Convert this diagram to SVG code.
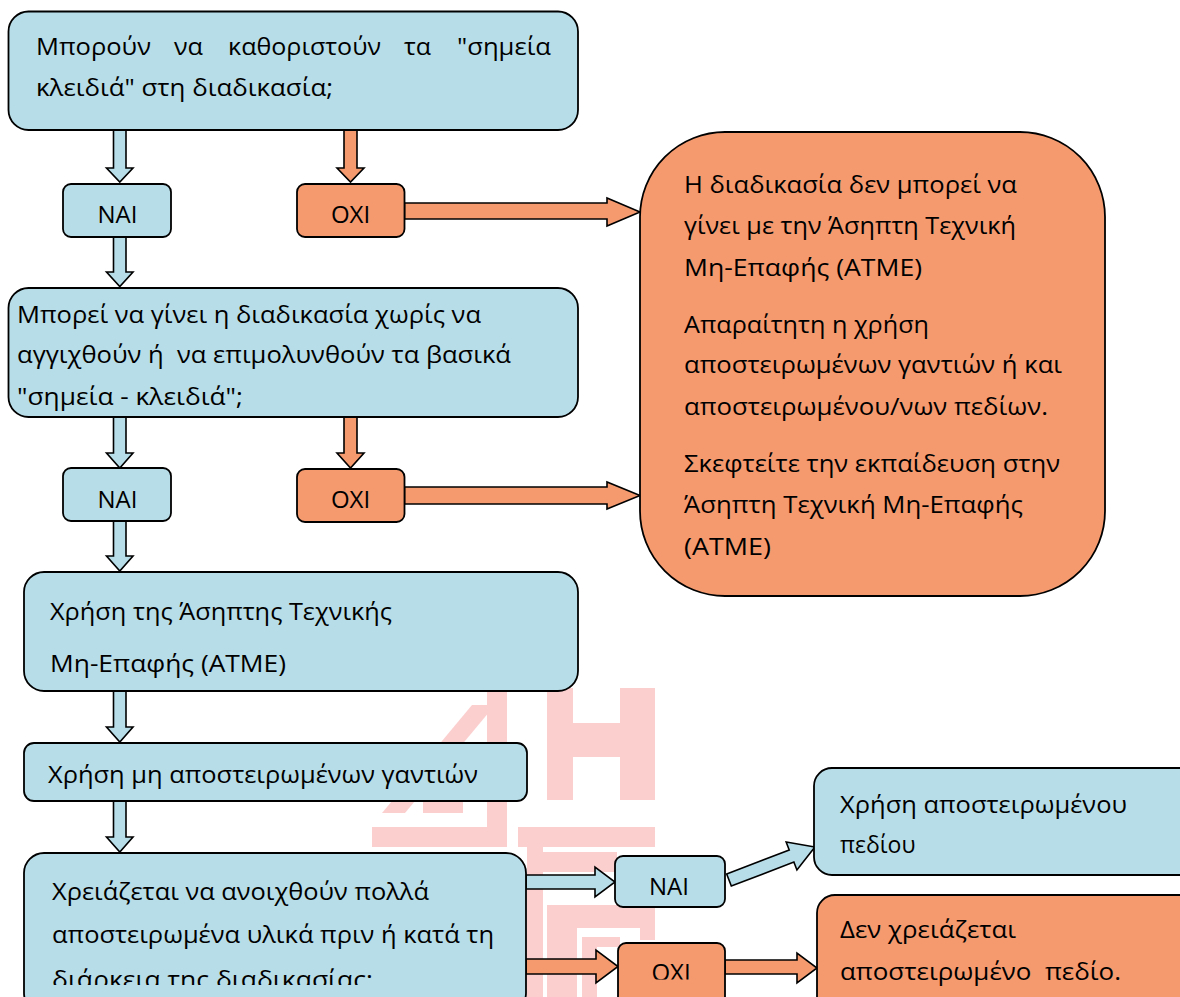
<svg xmlns="http://www.w3.org/2000/svg" width="1180" height="997" viewBox="0 0 1180 997">
<style>
.bl{fill:#b7dde8;stroke:#000;stroke-width:1.8}
.or{fill:#f59a6f;stroke:#000;stroke-width:1.8}
.ab{fill:#b7dde8;stroke:#000;stroke-width:1.6;stroke-linejoin:miter}
.ao{fill:#f59a6f;stroke:#000;stroke-width:1.6;stroke-linejoin:miter}
.t{font-family:"Open Sans","Noto Sans",sans-serif;font-size:23px;fill:#000}
.l{font-family:"Open Sans","Noto Sans",sans-serif;font-size:24px;fill:#000;text-anchor:middle}
.wm{fill:#fccfcf}
</style>
<defs>
<clipPath id="c5"><rect x="0" y="850" width="530" height="135"/></clipPath>
<clipPath id="c9"><rect x="600" y="940" width="140" height="39.5"/></clipPath>
</defs>
<rect width="1180" height="997" fill="#fff"/>
<g id="watermark">
<polygon class="wm" points="472,705 495,705 405,813 382,813"/>
<rect class="wm" x="423" y="800" width="40" height="13"/>
<rect class="wm" x="487" y="688" width="20" height="159"/>
<rect class="wm" x="372" y="827" width="133" height="20"/>
<rect class="wm" x="518" y="827" width="137" height="20"/>
<rect class="wm" x="547" y="688" width="26" height="112"/>
<rect class="wm" x="620" y="688" width="35" height="112"/>
<rect class="wm" x="573" y="723" width="47" height="34"/>
<rect class="wm" x="527" y="847" width="16" height="150"/>
<rect class="wm" x="527" y="852" width="90" height="20"/>
<rect class="wm" x="547" y="905" width="108" height="13"/>
<rect class="wm" x="547" y="905" width="15" height="92"/>
<rect class="wm" x="640" y="905" width="15" height="35"/>
<rect class="wm" x="562" y="917" width="78" height="11"/>
<rect class="wm" x="562" y="917" width="15" height="80"/>
<rect class="wm" x="582" y="937" width="38" height="10"/>
<rect class="wm" x="582" y="937" width="15" height="60"/>
</g>
<g id="connectors">
<polygon class="ab" points="113.5,130 126,130 126,168 133,168 119.8,182 106.5,168 113.5,168"/>
<polygon class="ao" points="344,130 357,130 357,168 364,168 350.5,182 337,168 344,168"/>
<polygon class="ao" points="404.5,203 607,203 607,198 640,212 607,226 607,219 404.5,219"/>
<polygon class="ab" points="113.5,237 126,237 126,272 133,272 119.8,286.5 106.5,272 113.5,272"/>
<polygon class="ab" points="113.5,417 126,417 126,453 133,453 119.8,468 106.5,453 113.5,453"/>
<polygon class="ao" points="344,417 357,417 357,453 364,453 350.5,468 337,453 344,453"/>
<polygon class="ao" points="404.5,487 607,487 607,482 640,495.5 607,509 607,504 404.5,504"/>
<polygon class="ab" points="113.5,521 126,521 126,556 133,556 119.8,571 106.5,556 113.5,556"/>
<polygon class="ab" points="113.5,691 126,691 126,727 133,727 119.8,742 106.5,727 113.5,727"/>
<polygon class="ab" points="113.5,801 126,801 126,837 133,837 119.8,852 106.5,837 113.5,837"/>
<polygon class="ab" points="526,875 595,875 595,867 615,882 595,897 595,889 526,889"/>
<polygon class="ab" transform="translate(729,880) rotate(-21)" points="0,-6.5 67,-6.5 67,-15 92,0 67,15 67,6.5 0,6.5"/>
<polygon class="ao" points="526,959 596,959 596,950 618,966.5 596,983 596,974 526,974"/>
<polygon class="ao" points="725,960 797,960 797,953 817,968 797,983 797,974 725,974"/>
</g>
<g id="n1">
<rect class="bl" x="8.5" y="11.5" width="569.5" height="118.5" rx="20"/>
<text class="t" x="36" y="55" textLength="115" lengthAdjust="spacingAndGlyphs">Μπορούν</text>
<text class="t" x="174" y="55" textLength="29" lengthAdjust="spacingAndGlyphs">να</text>
<text class="t" x="228" y="55" textLength="153" lengthAdjust="spacingAndGlyphs">καθοριστούν</text>
<text class="t" x="404" y="55" textLength="27" lengthAdjust="spacingAndGlyphs">τα</text>
<text class="t" x="457" y="55" textLength="94" lengthAdjust="spacingAndGlyphs">"σημεία</text>
<text class="t" x="36" y="96" textLength="297" lengthAdjust="spacingAndGlyphs">κλειδιά" στη διαδικασία;</text>
</g>
<g id="n2">
<rect class="bl" x="63" y="184" width="108" height="53" rx="8"/>
<text class="l" x="117.5" y="223">NAI</text>
</g>
<g id="n3">
<rect class="or" x="297" y="184" width="107.5" height="53" rx="8"/>
<text class="l" x="350.5" y="223">OXI</text>
</g>
<g id="n4">
<rect class="or" x="640" y="132" width="465" height="464" rx="85"/>
<text class="t" x="684" y="193" textLength="333" lengthAdjust="spacingAndGlyphs">Η διαδικασία δεν μπορεί να</text>
<text class="t" x="684" y="234" textLength="332" lengthAdjust="spacingAndGlyphs">γίνει με την Άσηπτη Τεχνική</text>
<text class="t" x="684" y="276" textLength="238" lengthAdjust="spacingAndGlyphs">Μη-Επαφής (ΑΤΜΕ)</text>
<text class="t" x="684" y="333" textLength="245" lengthAdjust="spacingAndGlyphs">Απαραίτητη η χρήση</text>
<text class="t" x="684" y="373" textLength="378" lengthAdjust="spacingAndGlyphs">αποστειρωμένων γαντιών ή και</text>
<text class="t" x="684" y="415" textLength="364" lengthAdjust="spacingAndGlyphs">αποστειρωμένου/νων πεδίων.</text>
<text class="t" x="684" y="472" textLength="376" lengthAdjust="spacingAndGlyphs">Σκεφτείτε την εκπαίδευση στην</text>
<text class="t" x="684" y="513" textLength="339" lengthAdjust="spacingAndGlyphs">Άσηπτη Τεχνική Μη-Επαφής</text>
<text class="t" x="684" y="555" textLength="87" lengthAdjust="spacingAndGlyphs">(ΑΤΜΕ)</text>
</g>
<g id="n5">
<rect class="bl" x="8.5" y="288" width="569.5" height="129" rx="20"/>
<text class="t" x="17" y="323" textLength="464" lengthAdjust="spacingAndGlyphs">Μπορεί να γίνει η διαδικασία χωρίς να</text>
<text class="t" x="17" y="363" textLength="494" lengthAdjust="spacingAndGlyphs">αγγιχθούν ή&#160; να επιμολυνθούν τα βασικά</text>
<text class="t" x="17" y="405" textLength="226" lengthAdjust="spacingAndGlyphs">"σημεία - κλειδιά";</text>
</g>
<g id="n6">
<rect class="bl" x="63" y="468" width="108" height="53" rx="8"/>
<text class="l" x="117.5" y="508">NAI</text>
</g>
<g id="n7">
<rect class="or" x="297" y="469" width="107.5" height="53" rx="8"/>
<text class="l" x="350.5" y="508">OXI</text>
</g>
<g id="n8">
<rect class="bl" x="24" y="572" width="554" height="119" rx="20"/>
<text class="t" x="50" y="620" textLength="342" lengthAdjust="spacingAndGlyphs">Χρήση της Άσηπτης Τεχνικής</text>
<text class="t" x="50" y="672" textLength="236" lengthAdjust="spacingAndGlyphs">Μη-Επαφής (ΑΤΜΕ)</text>
</g>
<g id="n9">
<rect class="bl" x="24" y="743" width="503" height="58" rx="10"/>
<text class="t" x="48" y="783" textLength="430" lengthAdjust="spacingAndGlyphs">Χρήση μη αποστειρωμένων γαντιών</text>
</g>
<g id="n10">
<rect class="bl" x="24" y="853" width="502" height="160" rx="20"/>
<text class="t" x="52" y="900" textLength="377" lengthAdjust="spacingAndGlyphs">Χρειάζεται να ανοιχθούν πολλά</text>
<text class="t" x="52" y="943" textLength="442" lengthAdjust="spacingAndGlyphs">αποστειρωμένα υλικά πριν ή κατά τη</text>
<text class="t" x="52" y="988" textLength="321" lengthAdjust="spacingAndGlyphs" clip-path="url(#c5)">διάρκεια της διαδικασίας;</text>
</g>
<g id="n11">
<rect class="bl" x="615" y="856" width="110" height="51" rx="8"/>
<text class="l" x="669" y="895">NAI</text>
</g>
<g id="n12">
<rect class="or" x="618" y="943" width="107" height="62" rx="8"/>
<text class="l" x="671" y="981" clip-path="url(#c9)">OXI</text>
</g>
<g id="n13">
<rect class="bl" x="814" y="768" width="400" height="107" rx="18"/>
<text class="t" x="840" y="813" textLength="287" lengthAdjust="spacingAndGlyphs">Χρήση αποστειρωμένου</text>
<text class="t" x="840" y="853">πεδίου</text>
</g>
<g id="n14">
<rect class="or" x="817" y="895" width="400" height="120" rx="18"/>
<text class="t" x="840" y="938" textLength="176" lengthAdjust="spacingAndGlyphs">Δεν χρειάζεται</text>
<text class="t" x="840" y="980" textLength="281" lengthAdjust="spacingAndGlyphs">αποστειρωμένο&#160; πεδίο.</text>
</g>
</svg>
